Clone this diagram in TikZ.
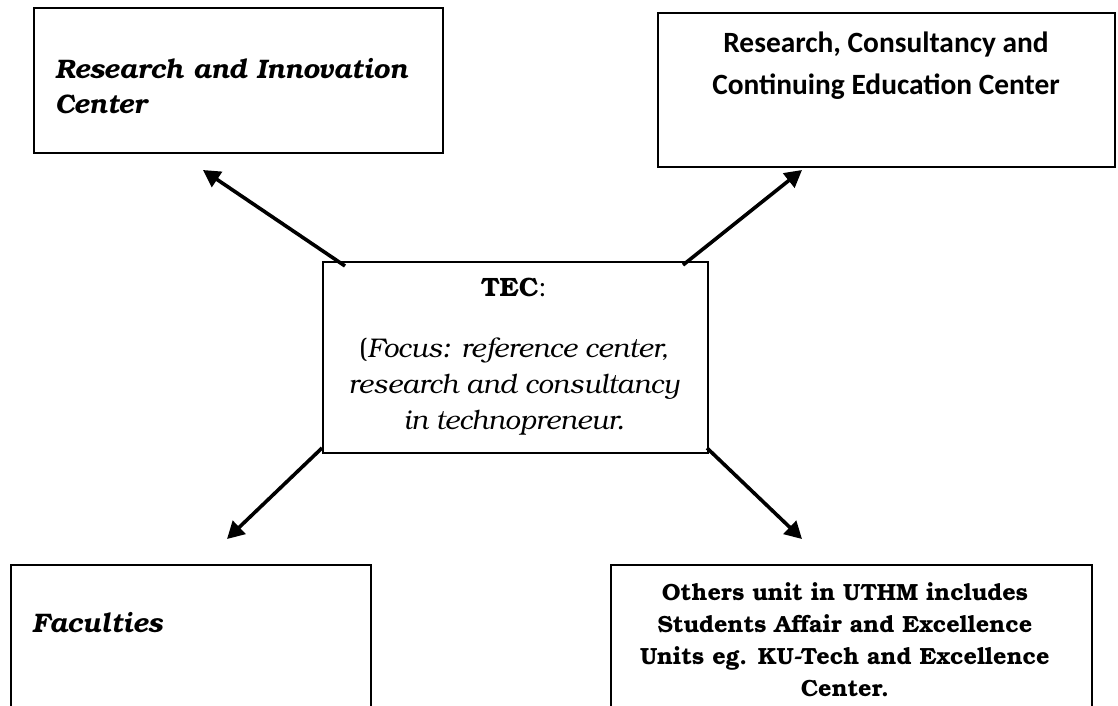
\documentclass[tikz,border=0pt]{standalone}
\usepackage{fontspec}
\usetikzlibrary{arrows.meta}
\newfontfamily\bkfont{texgyrebonum}[Extension=.otf, UprightFont=*-regular, BoldFont=*-bold, ItalicFont=*-italic, BoldItalicFont=*-bolditalic]
\newfontfamily\calfont{Carlito}
\tikzset{
  box/.style={draw, line width=1.7pt, rectangle, inner sep=0pt, anchor=north west},
  conn/.style={line width=3.6pt, -{Triangle[length=17pt, width=18pt]}},
  lbl/.style={inner sep=0pt, text=black}
}
\begin{document}
\begin{tikzpicture}[x=1pt, y=-1pt]
\useasboundingbox (0,0) rectangle (1118,706);
\clip (0,0) rectangle (1118,706);
% boxes
\node[box, minimum width=409pt, minimum height=145pt] (ric) at (33,7) {};
\node[box, minimum width=457pt, minimum height=154pt] (rcc) at (657,12) {};
\node[box, minimum width=385pt, minimum height=191pt] (tec) at (322,261) {};
\node[box, minimum width=360pt, minimum height=160pt] (fac) at (10,564) {};
\node[box, minimum width=481pt, minimum height=160pt] (oth) at (610,564) {};
% texts
\node[lbl, anchor=west, align=left, font={\bkfont\bfseries\itshape\fontsize{26.8}{35}\selectfont}] (rict) at (55,86) {Research and Innovation\\Center};
\node[lbl, align=center, font={\calfont\bfseries\fontsize{29.4}{42}\selectfont}] (rcct) at (886,66) {Research, Consultancy and\\Continuing Education Center};
\node[lbl, font={\bkfont\fontsize{26.5}{36}\selectfont}] (tect) at (514,287) {\textbf{TEC}:};
\node[lbl, align=center, font={\bkfont\itshape\fontsize{27}{36}\selectfont}] (tecb) at (514,387) {{\upshape(}Focus: reference center,\\research and consultancy\\in technopreneur.};
\node[lbl, anchor=west, font={\bkfont\bfseries\itshape\fontsize{26.8}{35}\selectfont}] (fact) at (32,623) {Faculties};
\node[lbl, align=center, font={\bkfont\bfseries\fontsize{23.4}{32}\selectfont}] (otht) at (845,640) {Others unit in UTHM includes\\Students Affair and Excellence\\Units eg. KU-Tech and Excellence\\Center.};
% connectors
\coordinate (s1) at (345,266); \coordinate (e1) at (203,170);
\coordinate (s2) at (683,265); \coordinate (e2) at (802,170);
\coordinate (s3) at (322,448); \coordinate (e3) at (227,539);
\coordinate (s4) at (707,448); \coordinate (e4) at (802,539);
\draw[conn] (s1) -- (e1);
\draw[conn] (s2) -- (e2);
\draw[conn] (s3) -- (e3);
\draw[conn] (s4) -- (e4);
\end{tikzpicture}
\end{document}
